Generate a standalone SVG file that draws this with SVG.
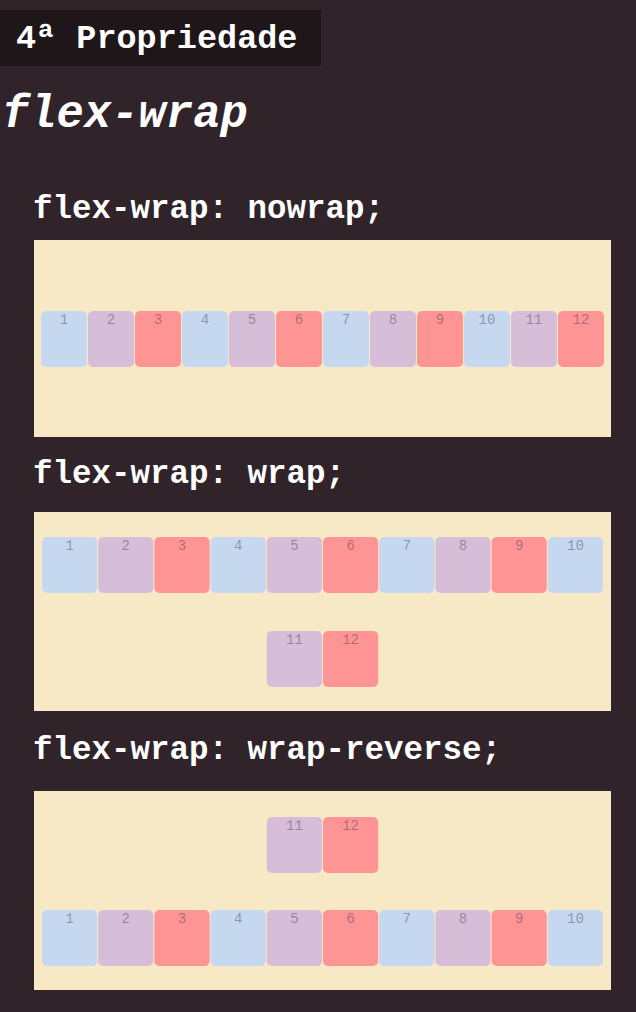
<svg xmlns="http://www.w3.org/2000/svg" width="636" height="1012" viewBox="0 0 636 1012">
  <style>
    .bg { fill: #30242a; }
    .tag { fill: #1f1619; }
    .mono { font-family: "Liberation Mono", "Courier New", monospace; font-weight: bold; fill: #ffffff; }
    .box { fill: #f8e9c6; }
    .b { fill: #c5d8ef; }
    .p { fill: #d7bed8; }
    .r { fill: #fe9494; }
    .num { font-family: "Liberation Mono", "Courier New", monospace; font-size: 14px; text-anchor: middle; fill: #3c3c55; fill-opacity: 0.45; }
  </style>
  <defs>
    <rect id="itemN" width="46" height="56" rx="5"/>
    <rect id="itemW" width="55.2" height="56" rx="5"/>
  </defs>

  <rect class="bg" x="0" y="0" width="636" height="1012"/>

  <!-- title -->
  <g id="title">
    <rect class="tag" x="0" y="10" width="321" height="56"/>
    <text class="mono" x="16" y="48" font-size="33.5">4ª Propriedade</text>
    <text class="mono" x="2" y="127" font-size="45.5" font-style="italic">flex-wrap</text>
  </g>

  <!-- flex-wrap: nowrap -->
  <g id="nowrap">
    <text class="mono" x="33" y="218" font-size="32.5">flex-wrap: nowrap;</text>
    <rect class="box" x="34" y="240" width="577" height="197"/>
    <g id="nowrap-items">
      <use href="#itemN" class="b" x="41" y="311"/><text class="num" x="64" y="324">1</text>
      <use href="#itemN" class="p" x="88" y="311"/><text class="num" x="111" y="324">2</text>
      <use href="#itemN" class="r" x="135" y="311"/><text class="num" x="158" y="324">3</text>
      <use href="#itemN" class="b" x="182" y="311"/><text class="num" x="205" y="324">4</text>
      <use href="#itemN" class="p" x="229" y="311"/><text class="num" x="252" y="324">5</text>
      <use href="#itemN" class="r" x="276" y="311"/><text class="num" x="299" y="324">6</text>
      <use href="#itemN" class="b" x="323" y="311"/><text class="num" x="346" y="324">7</text>
      <use href="#itemN" class="p" x="370" y="311"/><text class="num" x="393" y="324">8</text>
      <use href="#itemN" class="r" x="417" y="311"/><text class="num" x="440" y="324">9</text>
      <use href="#itemN" class="b" x="464" y="311"/><text class="num" x="487" y="324">10</text>
      <use href="#itemN" class="p" x="511" y="311"/><text class="num" x="534" y="324">11</text>
      <use href="#itemN" class="r" x="558" y="311"/><text class="num" x="581" y="324">12</text>
    </g>
  </g>

  <!-- flex-wrap: wrap -->
  <g id="wrap">
    <text class="mono" x="33" y="483" font-size="32.5">flex-wrap: wrap;</text>
    <rect class="box" x="34" y="512" width="577" height="199"/>
    <g id="wrap-items">
      <use href="#itemW" class="b" x="42" y="537"/><text class="num" x="69.6" y="550">1</text>
      <use href="#itemW" class="p" x="98.2" y="537"/><text class="num" x="125.8" y="550">2</text>
      <use href="#itemW" class="r" x="154.4" y="537"/><text class="num" x="182" y="550">3</text>
      <use href="#itemW" class="b" x="210.6" y="537"/><text class="num" x="238.2" y="550">4</text>
      <use href="#itemW" class="p" x="266.8" y="537"/><text class="num" x="294.4" y="550">5</text>
      <use href="#itemW" class="r" x="323" y="537"/><text class="num" x="350.6" y="550">6</text>
      <use href="#itemW" class="b" x="379.2" y="537"/><text class="num" x="406.8" y="550">7</text>
      <use href="#itemW" class="p" x="435.4" y="537"/><text class="num" x="463" y="550">8</text>
      <use href="#itemW" class="r" x="491.6" y="537"/><text class="num" x="519.2" y="550">9</text>
      <use href="#itemW" class="b" x="547.8" y="537"/><text class="num" x="575.4" y="550">10</text>
      <use href="#itemW" class="p" x="266.8" y="631"/><text class="num" x="294.4" y="644">11</text>
      <use href="#itemW" class="r" x="323" y="631"/><text class="num" x="350.6" y="644">12</text>
    </g>
  </g>

  <!-- flex-wrap: wrap-reverse -->
  <g id="wrap-reverse">
    <text class="mono" x="33" y="759" font-size="32.5">flex-wrap: wrap-reverse;</text>
    <rect class="box" x="34" y="791" width="577" height="199"/>
    <g id="wrap-reverse-items">
      <use href="#itemW" class="p" x="266.8" y="817"/><text class="num" x="294.4" y="830">11</text>
      <use href="#itemW" class="r" x="323" y="817"/><text class="num" x="350.6" y="830">12</text>
      <use href="#itemW" class="b" x="42" y="910"/><text class="num" x="69.6" y="923">1</text>
      <use href="#itemW" class="p" x="98.2" y="910"/><text class="num" x="125.8" y="923">2</text>
      <use href="#itemW" class="r" x="154.4" y="910"/><text class="num" x="182" y="923">3</text>
      <use href="#itemW" class="b" x="210.6" y="910"/><text class="num" x="238.2" y="923">4</text>
      <use href="#itemW" class="p" x="266.8" y="910"/><text class="num" x="294.4" y="923">5</text>
      <use href="#itemW" class="r" x="323" y="910"/><text class="num" x="350.6" y="923">6</text>
      <use href="#itemW" class="b" x="379.2" y="910"/><text class="num" x="406.8" y="923">7</text>
      <use href="#itemW" class="p" x="435.4" y="910"/><text class="num" x="463" y="923">8</text>
      <use href="#itemW" class="r" x="491.6" y="910"/><text class="num" x="519.2" y="923">9</text>
      <use href="#itemW" class="b" x="547.8" y="910"/><text class="num" x="575.4" y="923">10</text>
    </g>
  </g>
</svg>
